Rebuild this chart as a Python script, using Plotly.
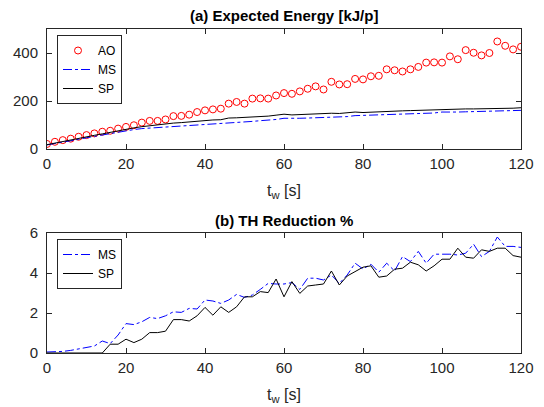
import plotly.graph_objects as go

t = list(range(0, 121, 2))

ao_energy = [21, 30, 37, 43, 51, 58, 65, 72, 76, 85, 92, 99, 110, 117, 117, 123,
             137, 138, 143, 154, 161, 165, 168, 189, 196, 189, 210, 211, 210, 223,
             233, 230, 240, 251, 261, 248, 280, 269, 270, 292, 290, 303, 305, 332,
             328, 323, 332, 342, 360, 361, 360, 386, 374, 412, 401, 390, 400, 448,
             430, 415, 426]

ms_energy = [17, 22, 28, 33, 40, 47, 53, 58, 64, 70, 76, 81, 85, 87, 88, 91,
             94, 96, 98, 100, 103, 104, 106, 108, 111, 113, 115, 118, 119, 123,
             128, 127, 128, 129, 130, 131, 133, 134, 135, 139, 140, 140, 141, 144,
             145, 146, 147, 148, 150, 150, 154, 153, 154, 155, 156, 155, 156, 159,
             158, 159, 161]

sp_energy = [18, 25, 31, 37, 44, 51, 57, 63, 70, 76, 84, 88, 93, 97, 101, 106,
             108, 110, 113, 117, 119, 121, 122, 129, 130, 131, 133, 135, 137, 141,
             145, 142, 144, 145, 146, 147, 149, 148, 150, 154, 152, 154, 155, 158,
             158, 159, 160, 161, 162, 163, 167, 166, 166, 167, 167, 167, 168, 170,
             169, 170, 172]

ms_th = [0.05, 0.05, 0.08, 0.13, 0.2, 0.25, 0.35, 0.6, 0.47, 0.9, 1.47, 1.42,
         1.56, 1.78, 1.72, 1.86, 2.06, 2.03, 2.23, 2.2, 2.65, 2.6, 2.48, 2.65,
         2.93, 2.78, 2.9, 3.18, 3.48, 3.45, 3.45, 3.52, 3.18, 3.74, 3.74, 3.65,
         3.9, 3.48, 3.9, 4.49, 4.2, 4.44, 4.04, 4.49, 4.1, 4.82, 4.57, 5.08,
         4.49, 4.94, 4.94, 4.94, 4.9, 4.99, 5.44, 4.82, 5.08, 5.8, 5.33, 5.33,
         5.28]

sp_th = [0, 0, 0, 0, 0, 0, 0, 0, 0.44, 0.44, 0.69, 0.52, 0.69, 1.02, 1.02,
         1.09, 1.67, 1.67, 1.6, 1.86, 2.28, 1.89, 2.31, 2.03, 2.31, 2.81, 2.81,
         3.07, 3.02, 3.7, 2.81, 3.57, 2.98, 3.35, 3.4, 3.45, 4.1, 3.4, 3.85,
         4.07, 4.29, 4.36, 3.79, 3.85, 4.19, 4.24, 4.54, 4.41, 4.1, 4.36, 4.69,
         4.69, 5.24, 4.79, 4.74, 5.16, 5.08, 5.24, 5.24, 4.87, 4.79]

FONT = "Liberation Sans, Arial, Helvetica, sans-serif"
AX = "#262626"

# The page body has an 8px default margin: lay the figure out so that it
# fills the 544x407 window from (8, 8).
OFF = 8
W, H = 544 - OFF, 407 - OFF


def px(x):
    return (x - OFF) / W


def py(y):
    return 1 - (y - OFF) / H


fig = go.Figure()
fig.add_trace(go.Scatter(x=t, y=ao_energy, mode="markers", name="AO",
                         marker=dict(symbol="circle-open", size=7,
                                     color="#ff0000", line=dict(width=1)),
                         xaxis="x", yaxis="y", legend="legend"))
fig.add_trace(go.Scatter(x=t, y=ms_energy, mode="lines", name="MS",
                         line=dict(color="#0000ff", width=1, dash="dashdot"),
                         xaxis="x", yaxis="y", legend="legend"))
fig.add_trace(go.Scatter(x=t, y=sp_energy, mode="lines", name="SP",
                         line=dict(color="#000000", width=1),
                         xaxis="x", yaxis="y", legend="legend"))
fig.add_trace(go.Scatter(x=t, y=ms_th, mode="lines", name="MS",
                         line=dict(color="#0000ff", width=1, dash="dashdot"),
                         xaxis="x2", yaxis="y2", legend="legend2"))
fig.add_trace(go.Scatter(x=t, y=sp_th, mode="lines", name="SP",
                         line=dict(color="#000000", width=1),
                         xaxis="x2", yaxis="y2", legend="legend2"))

xd = [px(47), px(521)]
yd1 = [py(149), py(29)]
yd2 = [py(353), py(233)]

axis_common = dict(showline=True, linecolor=AX, linewidth=1, mirror="ticks",
                   ticks="inside", ticklen=5, tickcolor=AX, showgrid=False,
                   zeroline=False, automargin=False,
                   tickfont=dict(family=FONT, size=15, color=AX))

legend_common = dict(bgcolor="white", bordercolor=AX, borderwidth=1,
                     font=dict(family=FONT, size=12, color="#000000"),
                     xanchor="left", yanchor="top", tracegroupgap=0,
                     itemwidth=30)

xt = [0, 20, 40, 60, 80, 100, 120]

fig.update_layout(
    template="none",
    width=W, height=H,
    margin=dict(l=0, r=0, t=0, b=0, autoexpand=False),
    paper_bgcolor="white", plot_bgcolor="white",
    xaxis=dict(domain=xd, range=[0, 120], tickvals=xt, anchor="y",
               ticklabelstandoff=1, **axis_common),
    yaxis=dict(domain=yd1, range=[0, 500], tickvals=[0, 200, 400], anchor="x",
               ticklabelstandoff=5, **axis_common),
    xaxis2=dict(domain=xd, range=[0, 120], tickvals=xt, anchor="y2",
                ticklabelstandoff=1, **axis_common),
    yaxis2=dict(domain=yd2, range=[0, 6], tickvals=[0, 2, 4, 6], anchor="x2",
                ticklabelstandoff=5, **axis_common),
    legend=dict(x=px(57), y=py(35), **legend_common),
    legend2=dict(x=px(57), y=py(239), **legend_common),
    annotations=[
        dict(text="<b>(a) Expected Energy [kJ/p]</b>", x=px(284), y=py(15),
             xref="paper", yref="paper", showarrow=False,
             xanchor="center", yanchor="middle",
             font=dict(family=FONT, size=15, color="#000000")),
        dict(text="<b>(b) TH Reduction %</b>", x=px(284), y=py(220),
             xref="paper", yref="paper", showarrow=False,
             xanchor="center", yanchor="middle",
             font=dict(family=FONT, size=15, color="#000000")),
        dict(text="t<sub>w</sub> [s]", x=px(284), y=py(191),
             xref="paper", yref="paper", showarrow=False,
             xanchor="center", yanchor="middle",
             font=dict(family=FONT, size=16, color=AX)),
        dict(text="t<sub>w</sub> [s]", x=px(284), y=py(395),
             xref="paper", yref="paper", showarrow=False,
             xanchor="center", yanchor="middle",
             font=dict(family=FONT, size=16, color=AX)),
    ],
    showlegend=True,
)

fig.write_html("out.html")
